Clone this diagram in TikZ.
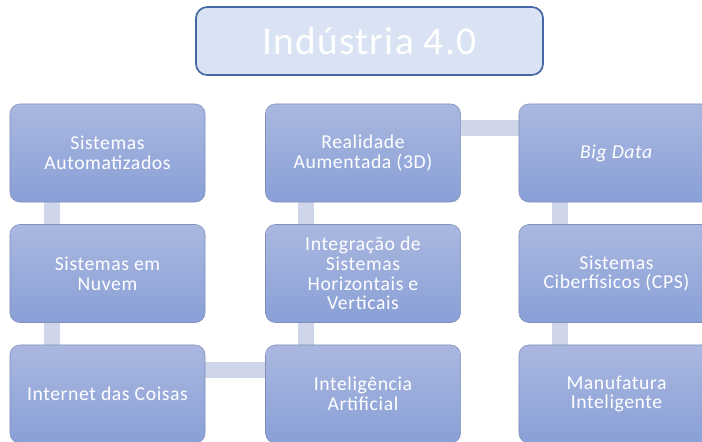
\documentclass[tikz,border=0pt]{standalone}
\usepackage{fontspec}
\setmainfont{Carlito}
\newfontfamily\boxfont[LetterSpace=3]{Carlito}
\usetikzlibrary{backgrounds}
\definecolor{titlefill}{RGB}{218,227,243}
\definecolor{titleedge}{RGB}{68,104,164}
\definecolor{boxtop}{RGB}{170,184,224}
\definecolor{boxbottom}{RGB}{137,159,214}
\definecolor{boxedge}{RGB}{128,143,188}
\definecolor{linkbar}{RGB}{208,214,234}

\begin{document}
\begin{tikzpicture}[x=0.025cm, y=-0.025cm,
  stepbox/.style={draw=boxedge, line width=0.4pt, rounded corners=7pt,
    top color=boxtop, bottom color=boxbottom,
    minimum width=4.875cm, minimum height=2.45cm, align=center,
    text=white, font=\boxfont\fontsize{14}{14}\selectfont},
  link/.style={draw=linkbar, line width=11.3pt}]
  \useasboundingbox (0,0) rectangle (702,441);

  % title
  \node[draw=titleedge, line width=1.2pt, rounded corners=8pt, fill=titlefill,
    minimum width=8.675cm, minimum height=1.7cm, text=white,
    font=\boxfont\fontsize{28}{32}\selectfont] (title) at (369.5,41) {Indústria 4.0};

  % first column
  \node[stepbox] (autom) at (107.5,153) {Sistemas\\Automatizados};
  \node[stepbox] (nuvem) at (107.5,273.5) {Sistemas em\\Nuvem};
  \node[stepbox] (iot) at (107.5,394) {Internet das Coisas};

  % second column
  \node[stepbox] (ia) at (363,394) {Inteligência\\Artificial};
  \node[stepbox] (integr) at (363,273.5) {Integração de\\Sistemas\\Horizontais e\\Verticais};
  \node[stepbox] (realid) at (363,153) {Realidade\\Aumentada (3D)};

  % third column
  \node[stepbox] (bigdata) at (616.5,153) {\textit{Big Data}};
  \node[stepbox] (cps) at (616.5,273.5) {Sistemas\\Ciberfísicos (CPS)};
  \node[stepbox] (manuf) at (616.5,394) {Manufatura\\Inteligente};

  % links behind the boxes
  \begin{scope}[on background layer]
    \draw[link] ([xshift=1.05cm]autom.south west) -- ([xshift=1.05cm]nuvem.north west);
    \draw[link] ([xshift=1.05cm]nuvem.south west) -- ([xshift=1.05cm]iot.north west);
    \draw[link] ([yshift=-0.625cm]iot.north east) -- ([yshift=-0.625cm]ia.north west);
    \draw[link] ([xshift=1.025cm]ia.north west) -- ([xshift=1.025cm]integr.south west);
    \draw[link] ([xshift=1.025cm]integr.north west) -- ([xshift=1.025cm]realid.south west);
    \draw[link] ([yshift=-0.6cm]realid.north east) -- ([yshift=-0.6cm]bigdata.north west);
    \draw[link] ([xshift=1.025cm]bigdata.south west) -- ([xshift=1.025cm]cps.north west);
    \draw[link] ([xshift=1.025cm]cps.south west) -- ([xshift=1.025cm]manuf.north west);
  \end{scope}
\end{tikzpicture}
\end{document}
